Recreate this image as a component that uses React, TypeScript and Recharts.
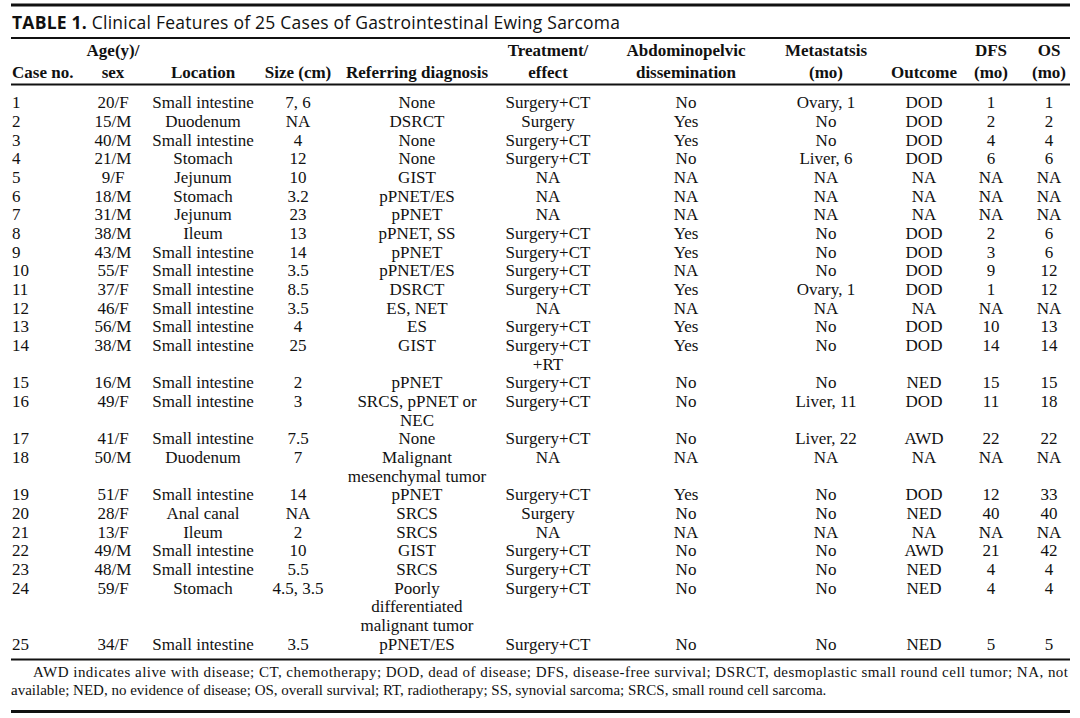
import { Customized, Scatter, ScatterChart, XAxis, YAxis } from 'recharts';

// Table rows, one entry per case. '|' marks a line break inside a cell.
const CASE_NO = ['1', '2', '3', '4', '5', '6', '7', '8', '9', '10', '11', '12', '13', '14', '15', '16', '17', '18', '19', '20', '21', '22', '23', '24', '25'];
const AGE_SEX = ['20/F', '15/M', '40/M', '21/M', '9/F', '18/M', '31/M', '38/M', '43/M', '55/F', '37/F', '46/F', '56/M', '38/M', '16/M', '49/F', '41/F', '50/M', '51/F', '28/F', '13/F', '49/M', '48/M', '59/F', '34/F'];
const LOCATION = ['Small intestine', 'Duodenum', 'Small intestine', 'Stomach', 'Jejunum', 'Stomach', 'Jejunum', 'Ileum', 'Small intestine', 'Small intestine', 'Small intestine', 'Small intestine', 'Small intestine', 'Small intestine', 'Small intestine', 'Small intestine', 'Small intestine', 'Duodenum', 'Small intestine', 'Anal canal', 'Ileum', 'Small intestine', 'Small intestine', 'Stomach', 'Small intestine'];
const SIZE_CM = ['7, 6', 'NA', '4', '12', '10', '3.2', '23', '13', '14', '3.5', '8.5', '3.5', '4', '25', '2', '3', '7.5', '7', '14', 'NA', '2', '10', '5.5', '4.5, 3.5', '3.5'];
const DIAGNOSIS = ['None', 'DSRCT', 'None', 'None', 'GIST', 'pPNET/ES', 'pPNET', 'pPNET, SS', 'pPNET', 'pPNET/ES', 'DSRCT', 'ES, NET', 'ES', 'GIST', 'pPNET', 'SRCS, pPNET or|NEC', 'None', 'Malignant|mesenchymal tumor', 'pPNET', 'SRCS', 'SRCS', 'GIST', 'SRCS', 'Poorly|differentiated|malignant tumor', 'pPNET/ES'];
const TREATMENT = ['Surgery+CT', 'Surgery', 'Surgery+CT', 'Surgery+CT', 'NA', 'NA', 'NA', 'Surgery+CT', 'Surgery+CT', 'Surgery+CT', 'Surgery+CT', 'NA', 'Surgery+CT', 'Surgery+CT|+RT', 'Surgery+CT', 'Surgery+CT', 'Surgery+CT', 'NA', 'Surgery+CT', 'Surgery', 'NA', 'Surgery+CT', 'Surgery+CT', 'Surgery+CT', 'Surgery+CT'];
const DISSEMINATION = ['No', 'Yes', 'Yes', 'No', 'NA', 'NA', 'NA', 'Yes', 'Yes', 'NA', 'Yes', 'NA', 'Yes', 'Yes', 'No', 'No', 'No', 'NA', 'Yes', 'No', 'NA', 'No', 'No', 'No', 'No'];
const METASTASIS = ['Ovary, 1', 'No', 'No', 'Liver, 6', 'NA', 'NA', 'NA', 'No', 'No', 'No', 'Ovary, 1', 'NA', 'No', 'No', 'No', 'Liver, 11', 'Liver, 22', 'NA', 'No', 'No', 'NA', 'No', 'No', 'No', 'No'];
const OUTCOME = ['DOD', 'DOD', 'DOD', 'DOD', 'NA', 'NA', 'NA', 'DOD', 'DOD', 'DOD', 'DOD', 'NA', 'DOD', 'DOD', 'NED', 'DOD', 'AWD', 'NA', 'DOD', 'NED', 'NA', 'AWD', 'NED', 'NED', 'NED'];
const DFS_MO = ['1', '2', '4', '6', 'NA', 'NA', 'NA', '2', '3', '9', '1', 'NA', '10', '14', '15', '11', '22', 'NA', '12', '40', 'NA', '21', '4', '4', '5'];
const OS_MO = ['1', '2', '4', '6', 'NA', 'NA', 'NA', '6', '6', '12', '12', 'NA', '13', '14', '15', '18', '22', 'NA', '33', '40', 'NA', '42', '4', '4', '5'];

const TITLE_BOLD = 'TABLE 1.';
const TITLE_TEXT = 'Clinical Features of 25 Cases of Gastrointestinal Ewing Sarcoma';
const FOOTNOTE = [
  'AWD indicates alive with disease; CT, chemotherapy; DOD, dead of disease; DFS, disease-free survival; DSRCT, desmoplastic small round cell tumor; NA, not',
  'available; NED, no evidence of disease; OS, overall survival; RT, radiotherapy; SS, synovial sarcoma; SRCS, small round cell sarcoma.',
];

// column layout: x is the horizontal pixel position on the chart's x scale
const COLUMNS = [
  { key: 'case', head: ['', 'Case no.'], values: CASE_NO, x: 12, anchor: 'start' },
  { key: 'age', head: ['Age(y)/', 'sex'], values: AGE_SEX, x: 113, anchor: 'middle' },
  { key: 'location', head: ['', 'Location'], values: LOCATION, x: 203, anchor: 'middle' },
  { key: 'size', head: ['', 'Size (cm)'], values: SIZE_CM, x: 298, anchor: 'middle' },
  { key: 'diagnosis', head: ['', 'Referring diagnosis'], values: DIAGNOSIS, x: 417, anchor: 'middle' },
  { key: 'treatment', head: ['Treatment/', 'effect'], values: TREATMENT, x: 548, anchor: 'middle' },
  { key: 'dissemination', head: ['Abdominopelvic', 'dissemination'], values: DISSEMINATION, x: 686, anchor: 'middle' },
  { key: 'metastasis', head: ['Metastatsis', '(mo)'], values: METASTASIS, x: 826, anchor: 'middle' },
  { key: 'outcome', head: ['', 'Outcome'], values: OUTCOME, x: 924, anchor: 'middle' },
  { key: 'dfs', head: ['DFS', '(mo)'], values: DFS_MO, x: 991, anchor: 'middle' },
  { key: 'os', head: ['OS', '(mo)'], values: OS_MO, x: 1049, anchor: 'middle' },
] as const;

const WIDTH = 1080;
const HEIGHT = 718;
const INK = '#111';
const SERIF = '"Liberation Serif", "Times New Roman", serif';
const SANS = '"Open Sans", "Noto Sans", sans-serif';

// first text line of each row, counting wrapped cells
const rowStarts: number[] = [];
let lineCursor = 0;
CASE_NO.forEach((_, r) => {
  rowStarts.push(lineCursor);
  lineCursor += Math.max(...COLUMNS.map((c) => c.values[r].split('|').length));
});
const LAST_LINE = lineCursor - 1;

function cellPoints(values: readonly string[], x: number) {
  return values.flatMap((value, r) =>
    value.split('|').map((text, i) => ({ text, x, y: rowStarts[r] + i })),
  );
}

function CellText(props: any, anchor: string) {
  return (
    <text
      dy="0.34em"
      fill={INK}
      fontFamily={SERIF}
      fontSize={17}
      textAnchor={anchor}
      x={props.cx}
      y={props.cy}
    >
      {props.payload.text}
    </text>
  );
}

function Frame() {
  const rule = (y: number, w: number) => (
    <line stroke={INK} strokeWidth={w} x1={11} x2={1070} y1={y} y2={y} />
  );
  return (
    <g>
      {rule(5, 3)}
      <text
        fill={INK}
        fontFamily={SANS}
        fontSize={17.5}
        lengthAdjust="spacing"
        textLength={608}
        x={12}
        y={28.5}
      >
        <tspan fontWeight="bold">{TITLE_BOLD}</tspan>
        <tspan> {TITLE_TEXT}</tspan>
      </text>
      {rule(38, 2)}
      {COLUMNS.map((c) =>
        c.head.map((h, i) =>
          h ? (
            <text
              fill={INK}
              fontFamily={SERIF}
              fontSize={17}
              fontWeight="bold"
              key={`${c.key}-${i}`}
              textAnchor={c.anchor}
              x={c.x}
              y={56 + i * 22}
            >
              {h}
            </text>
          ) : null,
        ),
      )}
      {rule(84.5, 2)}
      {rule(659.5, 2)}
      <text
        fill={INK}
        fontFamily={SERIF}
        fontSize={15}
        lengthAdjust="spacing"
        textLength={1035}
        x={33}
        y={677}
      >
        {FOOTNOTE[0]}
      </text>
      <text fill={INK} fontFamily={SERIF} fontSize={15} x={11} y={695}>
        {FOOTNOTE[1]}
      </text>
      {rule(711.5, 3)}
    </g>
  );
}

export default function App() {
  return (
    <div style={{ background: '#fff', left: 0, position: 'absolute', top: 0 }}>
      <ScatterChart
        height={HEIGHT}
        margin={{ bottom: HEIGHT - 644, left: 0, right: 0, top: 102.5 }}
        width={WIDTH}
      >
        <XAxis dataKey="x" domain={[0, WIDTH]} hide type="number" />
        <YAxis dataKey="y" domain={[0, LAST_LINE]} hide reversed type="number" />
        <Customized component={<Frame />} />
        {COLUMNS.map((c) => (
          <Scatter
            data={cellPoints(c.values, c.x)}
            isAnimationActive={false}
            key={c.key}
            shape={(p: any) => CellText(p, c.anchor)}
          />
        ))}
      </ScatterChart>
    </div>
  );
}
